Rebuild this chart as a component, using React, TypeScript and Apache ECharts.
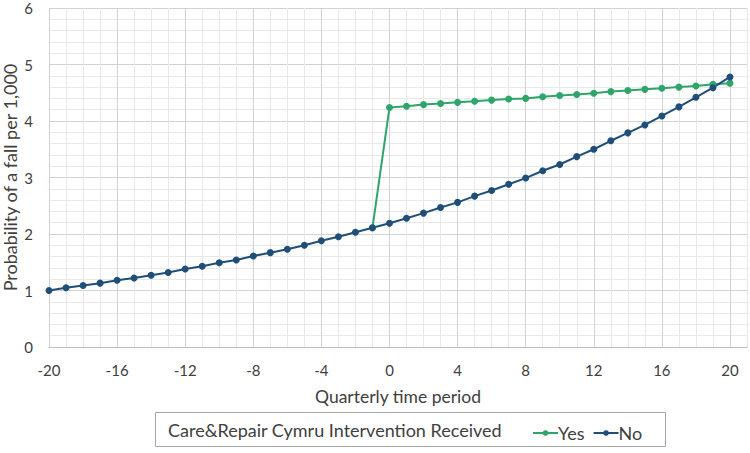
import React, { useEffect, useRef } from "react";
import * as echarts from "echarts";

const quartersNo = [-20, -19, -18, -17, -16, -15, -14, -13, -12, -11, -10, -9, -8, -7, -6, -5, -4, -3, -2, -1, 0, 1, 2, 3, 4, 5, 6, 7, 8, 9, 10, 11, 12, 13, 14, 15, 16, 17, 18, 19, 20];
const noValues = [1.0, 1.05, 1.09, 1.13, 1.18, 1.22, 1.27, 1.32, 1.38, 1.43, 1.49, 1.54, 1.61, 1.67, 1.73, 1.8, 1.88, 1.95, 2.03, 2.11, 2.19, 2.28, 2.37, 2.47, 2.56, 2.67, 2.77, 2.88, 2.99, 3.12, 3.23, 3.37, 3.5, 3.65, 3.79, 3.93, 4.09, 4.25, 4.42, 4.59, 4.78];
const quartersYes = [-1, 0, 1, 2, 3, 4, 5, 6, 7, 8, 9, 10, 11, 12, 13, 14, 15, 16, 17, 18, 19, 20];
const yesValues = [2.11, 4.24, 4.26, 4.29, 4.31, 4.33, 4.35, 4.37, 4.39, 4.4, 4.43, 4.45, 4.47, 4.49, 4.52, 4.54, 4.56, 4.58, 4.6, 4.62, 4.65, 4.67];

const legendTitle = "Care&Repair Cymru Intervention Received";
const xTitle = "Quarterly time period";
const yTitle = "Probability of a fall per 1,000";

const FONT = "Lato, 'Noto Sans', sans-serif";
const TEXT = "#404040";
const MAJOR = "#d2d2d2";
const MINOR = "#e8e8e8";
const GREEN = "#2ea56b";
const NAVY = "#1f4e79";

export default function App() {
  const ref = useRef<HTMLDivElement>(null);
  useEffect(() => {
    document.body.style.margin = "0";
    const chart = echarts.init(ref.current!, null, { renderer: "svg" });
    chart.setOption({
      animation: false,
      backgroundColor: "#ffffff",
      textStyle: { fontFamily: FONT },
      grid: { left: 49, top: 8, right: 3, bottom: 106, containLabel: false, outerBoundsMode: "none" },
      xAxis: {
        type: "value",
        min: -20,
        max: 21,
        interval: 1,
        axisLine: { show: true, lineStyle: { color: "#bfbfbf", width: 1 } },
        axisTick: { show: false },
        axisLabel: {
          color: TEXT,
          fontSize: 15,
          fontFamily: FONT,
          margin: 15,
          showMaxLabel: false,
          formatter: (v: number) => (v % 4 === 0 && v <= 20 ? String(v) : ""),
        },
        splitLine: { show: true, lineStyle: { color: [MAJOR, MINOR, MINOR, MINOR], width: 1 } },
        name: xTitle,
        nameLocation: "middle",
        nameGap: 40,
        nameMoveOverlap: false,
        nameTextStyle: { color: TEXT, fontSize: 17.5, fontFamily: FONT },
      },
      yAxis: {
        type: "value",
        min: 0,
        max: 6,
        interval: 0.2,
        axisLine: { show: false },
        axisTick: { show: false },
        axisLabel: {
          color: TEXT,
          fontSize: 15,
          lineHeight: 15,
          fontFamily: FONT,
          margin: 16,
          formatter: (v: number) => (Math.abs(v - Math.round(v)) < 1e-6 ? String(Math.round(v)) : ""),
        },
        splitLine: { show: true, lineStyle: { color: [MAJOR, MINOR, MINOR, MINOR, MINOR], width: 1 } },
        name: yTitle,
        nameLocation: "middle",
        nameGap: 30,
        nameMoveOverlap: false,
        nameTextStyle: { color: TEXT, fontSize: 18, fontFamily: FONT },
      },
      legend: {
        data: ["Yes", "No"],
        left: 527,
        top: 419,
        itemWidth: 25,
        itemHeight: 7,
        itemGap: 8,
        textStyle: { color: TEXT, fontSize: 18, fontFamily: FONT, padding: [0, 0, 0, -5] },
      },
      graphic: [
        {
          type: "rect",
          shape: { x: 155.5, y: 412.5, width: 510, height: 34 },
          style: { fill: "none", stroke: "#a6a6a6", lineWidth: 1 },
          silent: true,
        },
        {
          type: "text",
          x: 168,
          y: 430,
          style: { text: legendTitle, fill: TEXT, font: `18px ${FONT}`, verticalAlign: "middle" },
          silent: true,
        },
      ],
      series: [
        {
          name: "Yes",
          type: "line",
          data: quartersYes.map((q, i) => [q, yesValues[i]]),
          symbol: "circle",
          symbolSize: 7,
          lineStyle: { color: GREEN, width: 2 },
          itemStyle: { color: GREEN },
        },
        {
          name: "No",
          type: "line",
          data: quartersNo.map((q, i) => [q, noValues[i]]),
          symbol: "circle",
          symbolSize: 7,
          lineStyle: { color: NAVY, width: 2 },
          itemStyle: { color: NAVY },
        },
      ],
    });
    return () => chart.dispose();
  }, []);
  return <div ref={ref} style={{ position: "absolute", left: 0, top: 0, width: 750, height: 453 }} />;
}
